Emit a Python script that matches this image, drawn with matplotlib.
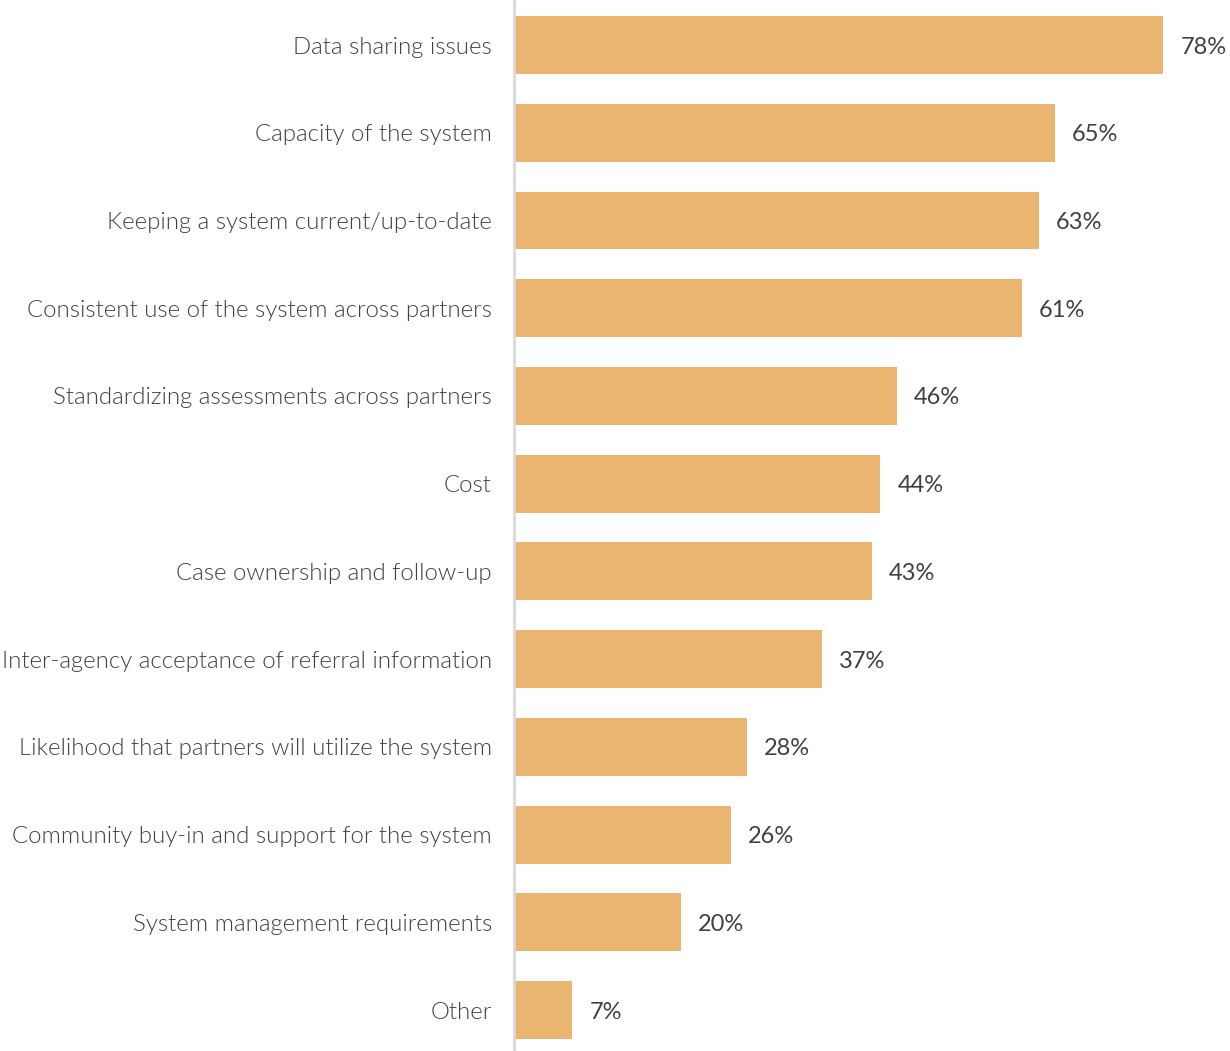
import matplotlib.pyplot as plt

# Survey responses, top to bottom
challenges = [
    'Data sharing issues',
    'Capacity of the system',
    'Keeping a system current/up-to-date',
    'Consistent use of the system across partners',
    'Standardizing assessments across partners',
    'Cost',
    'Case ownership and follow-up',
    'Inter-agency acceptance of referral information',
    'Likelihood that partners will utilize the system',
    'Community buy-in and support for the system',
    'System management requirements',
    'Other',
]
percents = [78, 65, 63, 61, 46, 44, 43, 37, 28, 26, 20, 7]

bar_color = '#E9B570'
text_color = '#404040'

plt.rcParams['font.family'] = ['Lato', 'DejaVu Sans']

fig = plt.figure(figsize=(12.3, 10.51), dpi=100)
ax = fig.add_axes([0.418, 0.0, 0.582, 1.0])

pos = list(range(len(challenges)))
ax.barh(pos, percents, height=0.66, color=bar_color, zorder=2)

# value labels just past the end of each bar
for y, v in zip(pos, percents):
    ax.annotate(f'{v}%', xy=(v, y), xytext=(17, 0), textcoords='offset pixels',
                va='center_baseline', ha='left', fontsize=17, color=text_color)

ax.set_yticks(pos)
ax.set_yticklabels(challenges, fontsize=17.25, color=text_color, fontweight=300)
ax.tick_params(axis='y', length=0, pad=16)
ax.set_xticks([])
ax.set_xlim(0, 86)
ax.set_ylim(11.467, -0.513)

for side in ['top', 'right', 'bottom']:
    ax.spines[side].set_visible(False)
ax.spines['left'].set_color('#D9D9D9')
ax.spines['left'].set_linewidth(2)

fig.savefig('out.png', dpi=100)
